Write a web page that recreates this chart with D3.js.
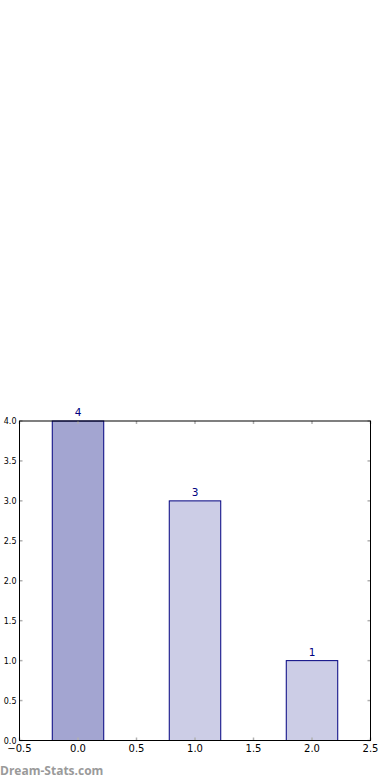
<!DOCTYPE html>
<html><head><meta charset="utf-8">
<script src="https://cdn.jsdelivr.net/npm/d3@7"></script>
<style>body{margin:0;background:#fff;}svg{display:block;}</style>
</head><body>
<script>
const categories = [0, 1, 2];
const values = [4, 3, 1];
const barLabels = ["4", "3", "1"];
const xTicks = [-0.5, 0.0, 0.5, 1.0, 1.5, 2.0, 2.5];
const yTicks = [0.0, 0.5, 1.0, 1.5, 2.0, 2.5, 3.0, 3.5, 4.0];
const barFills = ["#a3a5d1", "#cccde6", "#cccde6"];

const W = 390, H = 780;
const svg = d3.select("body").append("svg").attr("width", W).attr("height", H);
const L = 19.5, R = 370.5, T = 421, B = 740.5;
const x = d3.scaleLinear().domain([-0.5, 2.5]).range([L, R]);
const y = d3.scaleLinear().domain([0, 4]).range([B, T]);
const barW = 0.44;
const fmt = d => (d < 0 ? "\u2212" : "") + Math.abs(d).toFixed(1);

// bars
svg.selectAll("rect.bar").data(categories).enter().append("rect")
  .attr("x", (d) => x(d - barW / 2))
  .attr("y", (d, i) => y(values[i]))
  .attr("width", x(barW) - x(0))
  .attr("height", (d, i) => y(0) - y(values[i]))
  .attr("fill", (d, i) => barFills[i])
  .attr("stroke", "#000080").attr("stroke-width", 1);

// ticks (inside, gray)
const tickLen = 3;
const tg = svg.append("g").attr("stroke", "#b0b0b0").attr("stroke-width", 1.5);
xTicks.forEach(t => {
  tg.append("line").attr("x1", x(t)).attr("x2", x(t)).attr("y1", B).attr("y2", B - tickLen);
  tg.append("line").attr("x1", x(t)).attr("x2", x(t)).attr("y1", T).attr("y2", T + tickLen);
});
yTicks.forEach(t => {
  tg.append("line").attr("x1", L).attr("x2", L + tickLen).attr("y1", y(t)).attr("y2", y(t));
  tg.append("line").attr("x1", R).attr("x2", R - tickLen).attr("y1", y(t)).attr("y2", y(t));
});

// frame
svg.append("rect").attr("x", L).attr("y", T).attr("width", R - L).attr("height", B - T)
  .attr("fill", "none").attr("stroke", "#000").attr("stroke-width", 1);

// axis labels
svg.append("g").selectAll("text").data(xTicks).enter().append("text")
  .attr("x", d => x(d)).attr("y", 752).attr("text-anchor", "middle")
  .attr("font-family", "DejaVu Sans").attr("font-size", 10).attr("fill", "#000")
  .text(fmt);
svg.append("g").selectAll("text").data(yTicks).enter().append("text")
  .attr("x", 16.5).attr("y", d => y(d) + 3).attr("text-anchor", "end")
  .attr("font-family", "DejaVu Sans").attr("font-size", 8).attr("fill", "#000")
  .text(fmt);

// bar labels
svg.append("g").selectAll("text").data(categories).enter().append("text")
  .attr("x", d => x(d)).attr("y", (d, i) => y(values[i]) - 5)
  .attr("text-anchor", "middle")
  .attr("font-family", "DejaVu Sans").attr("font-size", 10.5).attr("fill", "#000080")
  .text((d, i) => barLabels[i]);

// watermark
svg.append("text").attr("x", 0).attr("y", 775)
  .attr("font-family", "Open Sans").attr("font-weight", "bold").attr("font-size", 12)
  .attr("fill", "#9a9a9a").text("Dream-Stats.com");
</script>
</body></html>
